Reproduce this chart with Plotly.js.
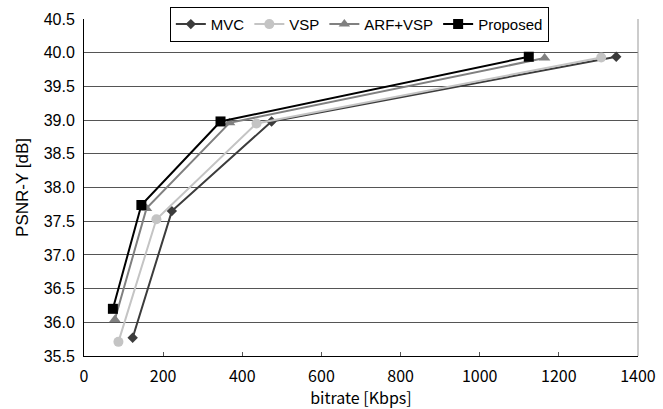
<!DOCTYPE html>
<html><head><meta charset="utf-8">
<script src="https://cdn.plot.ly/plotly-3.0.1.min.js"></script>
<style>body{margin:0;background:#fff}#c{width:663px;height:409px}</style>
</head><body><div id="c"></div>
<script>
const mvcX = [123, 222, 474, 1345];
const mvcY = [35.77, 37.65, 38.98, 39.94];
const vspX = [87, 183, 436, 1307];
const vspY = [35.71, 37.53, 38.95, 39.93];
const arfX = [78, 158, 368, 1164];
const arfY = [36.04, 37.69, 38.96, 39.92];
const propX = [73, 145, 345, 1124];
const propY = [36.2, 37.74, 38.98, 39.94];
const xTicks = [0, 200, 400, 600, 800, 1000, 1200, 1400];
const yTicks = [35.5, 36.0, 36.5, 37.0, 37.5, 38.0, 38.5, 39.0, 39.5, 40.0, 40.5];

function tr(name, x, y, color, symbol, size, width) {
  return {x: x, y: y, name: name, type: 'scatter', mode: 'lines+markers',
    line: {color: color, width: width},
    marker: {color: color, symbol: symbol, size: size}};
}
const data = [
  tr('MVC', mvcX, mvcY, '#3c3c3c', 'diamond', 8, 2),
  tr('VSP', vspX, vspY, '#c4c4c4', 'circle', 10, 2),
  tr('ARF+VSP', arfX, arfY, '#808080', 'triangle-up', 10, 2),
  tr('Proposed', propX, propY, '#000000', 'square', 10, 2)
];
const layout = {
  width: 663, height: 409,
  margin: {l: 84, r: 25, t: 19, b: 53, autoexpand: false},
  paper_bgcolor: '#fff', plot_bgcolor: '#fff',
  showlegend: true,
  legend: {orientation: 'h', x: 0.497, xanchor: 'center', y: 1.036, yanchor: 'top',
    bgcolor: '#fff', bordercolor: '#000', borderwidth: 1,
    font: {family: 'Liberation Sans, Arial', size: 15, color: '#000'},
    itemwidth: 30, tracegroupgap: 0},
  xaxis: {range: [0, 1400], tickvals: xTicks, ticktext: xTicks.map(String),
    showgrid: false, zeroline: false, showline: true, linecolor: '#000', linewidth: 1,
    ticks: 'inside', ticklen: 4, tickcolor: '#555', mirror: false, ticklabelstandoff: 6,
    tickfont: {family: 'Noto Sans CJK JP', size: 16, color: '#000'},
    title: {text: 'bitrate [Kbps]', font: {family: 'Noto Sans CJK JP', size: 16, color: '#000'}, standoff: 8}},
  yaxis: {range: [35.5, 40.5], tickvals: yTicks, ticktext: yTicks.map(v => v.toFixed(1)),
    showgrid: true, gridcolor: '#555', gridwidth: 1, zeroline: false,
    showline: true, linecolor: '#000', linewidth: 1, ticks: '', ticklabelstandoff: 5,
    tickfont: {family: 'Liberation Sans, Arial', size: 16, color: '#000'},
    title: {text: 'PSNR-Y [dB]', font: {family: 'Liberation Sans, Arial', size: 17, color: '#000'}, standoff: 10}},
  shapes: [{type: 'line', xref: 'paper', yref: 'paper', x0: 1, x1: 1, y0: 0, y1: 1,
    line: {color: '#999', width: 1}}]
};
Plotly.newPlot('c', data, layout, {displayModeBar: false, staticPlot: true});
</script></body></html>
